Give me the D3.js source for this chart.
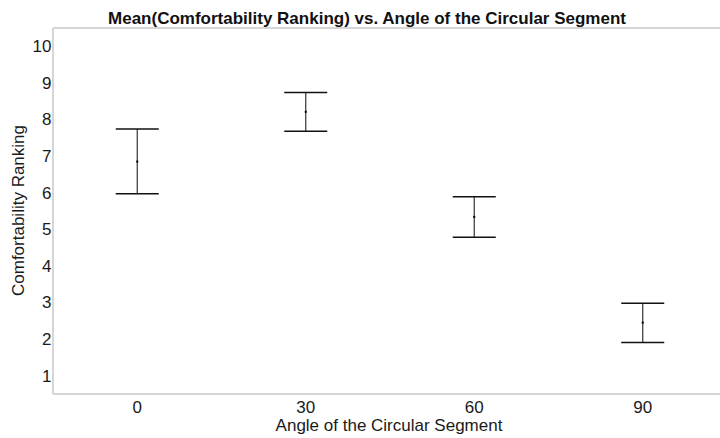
<!DOCTYPE html>
<html><head><meta charset="utf-8">
<script src="https://cdn.jsdelivr.net/npm/d3@7"></script>
<style>body{margin:0;background:#fff;} svg{display:block;font-family:"Liberation Sans",Arial,Helvetica,sans-serif;}</style>
</head><body>
<svg id="chart" width="720" height="438"></svg>
<script>
const categories = ["0", "30", "60", "90"];
const means = [6.85, 8.21, 5.34, 2.45];
const lower = [5.97, 7.68, 4.78, 1.91];
const upper = [7.74, 8.74, 5.89, 2.98];
const yTicks = [1, 2, 3, 4, 5, 6, 7, 8, 9, 10];

(function () {
const svg = d3.select("#chart");
const mLeft = 53, mRight = 727, mTop = 28, mBottom = 394;
const x = d3.scaleBand().domain(categories).range([mLeft, mRight]);
const y = d3.scaleLinear().domain([0.5, 10.5]).range([mBottom, mTop]);

// frame
svg.append("line").attr("x1", mLeft).attr("x2", 720).attr("y1", mTop).attr("y2", mTop)
  .attr("stroke", "#c8c8c8").attr("stroke-width", 1.5);
svg.append("line").attr("x1", mLeft).attr("x2", 720).attr("y1", mBottom).attr("y2", mBottom)
  .attr("stroke", "#c8c8c8").attr("stroke-width", 1.5);
svg.append("line").attr("x1", mLeft).attr("x2", mLeft).attr("y1", mTop).attr("y2", mBottom)
  .attr("stroke", "#c8c8c8").attr("stroke-width", 1.5);

// y axis
const yAxis = d3.axisLeft(y).tickValues(yTicks).tickSize(0).tickPadding(1.5);
const yg = svg.append("g").attr("transform", `translate(${mLeft},0)`).call(yAxis);
yg.attr("font-size", 17).attr("font-family", null);
yg.select(".domain").remove();
yg.selectAll("text").attr("font-size", 17).attr("fill", "#1a1a1a");

// x axis
const xAxis = d3.axisBottom(x).tickSize(0).tickPadding(7);
const xg = svg.append("g").attr("transform", `translate(0,${mBottom})`).call(xAxis);
xg.attr("font-size", 17).attr("font-family", null);
xg.select(".domain").remove();
xg.selectAll("text").attr("font-size", 17).attr("fill", "#1a1a1a");

// error bars
const capHalf = 21.5;
const g = svg.append("g");
categories.forEach((c, i) => {
  const cx = x(c) + x.bandwidth() / 2;
  g.append("line").attr("x1", cx).attr("x2", cx).attr("y1", y(upper[i])).attr("y2", y(lower[i]))
    .attr("stroke", "#333").attr("stroke-width", 1.2);
  g.append("line").attr("x1", cx - capHalf).attr("x2", cx + capHalf).attr("y1", y(upper[i])).attr("y2", y(upper[i]))
    .attr("stroke", "#111").attr("stroke-width", 1.5);
  g.append("line").attr("x1", cx - capHalf).attr("x2", cx + capHalf).attr("y1", y(lower[i])).attr("y2", y(lower[i]))
    .attr("stroke", "#111").attr("stroke-width", 1.5);
  g.append("rect").attr("x", cx - 1).attr("y", y(means[i]) - 1).attr("width", 2).attr("height", 2)
    .attr("fill", "#000");
});

// titles
svg.append("text").attr("x", 367).attr("y", 24).attr("text-anchor", "middle")
  .attr("font-size", 17).attr("font-weight", "bold").attr("fill", "#111")
  .text("Mean(Comfortability Ranking) vs. Angle of the Circular Segment");
svg.append("text").attr("x", 389).attr("y", 431).attr("text-anchor", "middle")
  .attr("font-size", 17).attr("fill", "#1a1a1a").text("Angle of the Circular Segment");
svg.append("text").attr("transform", "translate(24,210.5) rotate(-90)").attr("text-anchor", "middle")
  .attr("font-size", 17).attr("fill", "#1a1a1a").text("Comfortability Ranking");
})();
</script>
</body></html>
